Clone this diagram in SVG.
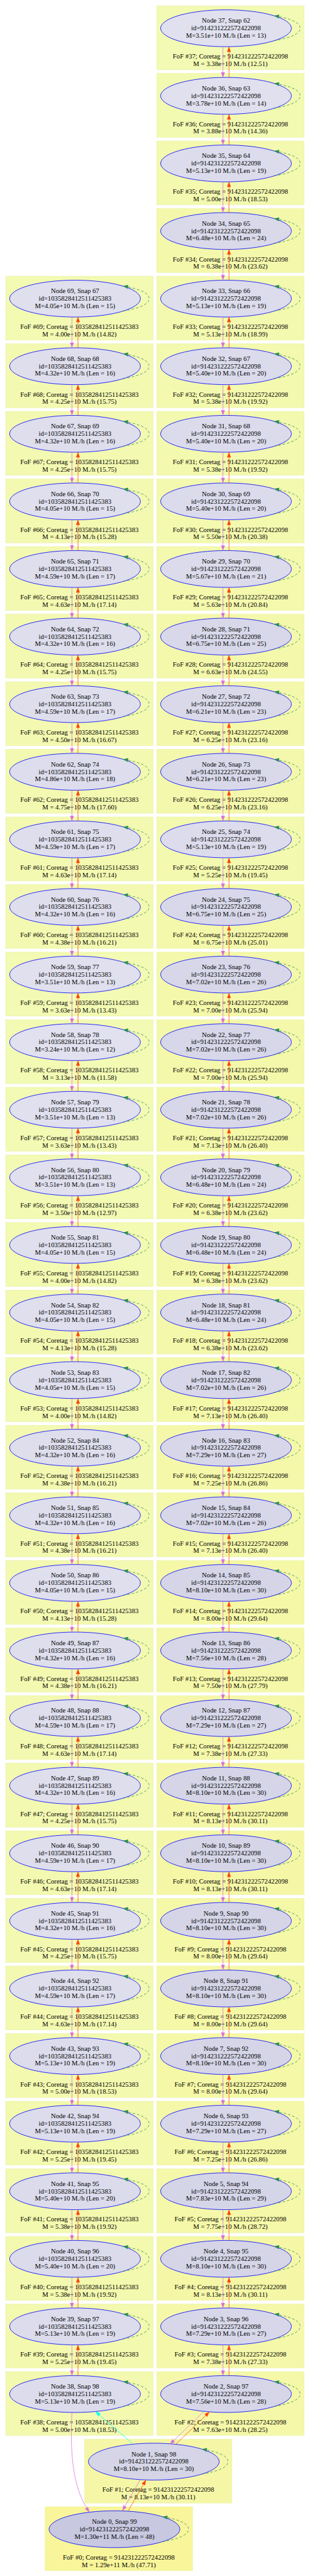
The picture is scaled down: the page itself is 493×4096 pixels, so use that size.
<svg xmlns="http://www.w3.org/2000/svg" width="493" height="4096" viewBox="0 0 493 4096">
<style>
.cb{stroke:#e9f19c;stroke-width:1}
.el{stroke:#0000ff;stroke-width:1.4}
.t{font-family:"Liberation Serif","Times New Roman",serif;font-size:18.2px;text-anchor:middle;fill:#000}
.pk{fill:none;stroke:#da70d6;stroke-width:1.3;marker-end:url(#mPk)}
.or{fill:none;stroke:#ff4500;stroke-width:1.3;marker-end:url(#mOr)}
.lp{fill:none;stroke:#2e8b57;stroke-width:1.3;stroke-dasharray:7 5;marker-end:url(#mGr)}
.cy{fill:none;stroke:#00ffff;stroke-width:1.3;marker-end:url(#mCy)}
</style>
<defs>
<marker id="mPk" markerUnits="userSpaceOnUse" markerWidth="14" markerHeight="11" refX="14" refY="5.3" orient="auto" overflow="visible"><path d="M0,0L14,5.3L0,10.6z" fill="#da70d6"/></marker>
<marker id="mOr" markerUnits="userSpaceOnUse" markerWidth="14" markerHeight="11" refX="14" refY="5.3" orient="auto" overflow="visible"><path d="M0,0L14,5.3L0,10.6z" fill="#ff4500"/></marker>
<marker id="mGr" markerUnits="userSpaceOnUse" markerWidth="14" markerHeight="11" refX="14" refY="5.3" orient="auto" overflow="visible"><path d="M0,0L14,5.3L0,10.6z" fill="#2e8b57"/></marker>
<marker id="mCy" markerUnits="userSpaceOnUse" markerWidth="14" markerHeight="11" refX="14" refY="5.3" orient="auto" overflow="visible"><path d="M0,0L14,5.3L0,10.6z" fill="#00ffff"/></marker>
</defs>
<g transform="scale(0.5886)">
<g id="nodes">
<g id="node37" transform="translate(610.7,15.7)"><rect class="cb" x="-187.2" y="0" width="398.3" height="172.6" fill="#f2fab3"/><ellipse class="el" cx="0" cy="60.6" rx="176.7" ry="49.8" fill="#e0e0ef"/><text class="t" y="46.3">Node 37, Snap 62</text><text class="t" y="66.3">id=914231222572422098</text><text class="t" y="86.3">M=3.51e+10 M./h (Len = 13)</text><text class="t" x="11.9" y="142.6">FoF #37; Coretag = 914231222572422098</text><text class="t" x="11.9" y="162.6">M = 3.38e+10 M./h (12.51)</text></g>
<g id="node36" transform="translate(610.7,198.3)"><rect class="cb" x="-187.2" y="0" width="398.3" height="172.6" fill="#f2fab2"/><ellipse class="el" cx="0" cy="60.6" rx="176.7" ry="49.8" fill="#e0e0ee"/><text class="t" y="46.3">Node 36, Snap 63</text><text class="t" y="66.3">id=914231222572422098</text><text class="t" y="86.3">M=3.78e+10 M./h (Len = 14)</text><text class="t" x="11.9" y="142.6">FoF #36; Coretag = 914231222572422098</text><text class="t" x="11.9" y="162.6">M = 3.88e+10 M./h (14.36)</text></g>
<g id="node35" transform="translate(610.7,380.9)"><rect class="cb" x="-187.2" y="0" width="398.3" height="172.6" fill="#f3f9af"/><ellipse class="el" cx="0" cy="60.6" rx="176.7" ry="49.8" fill="#dcdcec"/><text class="t" y="46.3">Node 35, Snap 64</text><text class="t" y="66.3">id=914231222572422098</text><text class="t" y="86.3">M=5.13e+10 M./h (Len = 19)</text><text class="t" x="11.9" y="142.6">FoF #35; Coretag = 914231222572422098</text><text class="t" x="11.9" y="162.6">M = 5.00e+10 M./h (18.53)</text></g>
<g id="node34" transform="translate(610.7,563.5)"><rect class="cb" x="-187.2" y="0" width="398.3" height="172.6" fill="#f4f8ab"/><ellipse class="el" cx="0" cy="60.6" rx="176.7" ry="49.8" fill="#d9d9ea"/><text class="t" y="46.3">Node 34, Snap 65</text><text class="t" y="66.3">id=914231222572422098</text><text class="t" y="86.3">M=6.48e+10 M./h (Len = 24)</text><text class="t" x="11.9" y="142.6">FoF #34; Coretag = 914231222572422098</text><text class="t" x="11.9" y="162.6">M = 6.38e+10 M./h (23.62)</text></g>
<g id="node33" transform="translate(610.7,746.1)"><rect class="cb" x="-187.2" y="0" width="398.3" height="172.6" fill="#f3f9af"/><ellipse class="el" cx="0" cy="60.6" rx="176.7" ry="49.8" fill="#dcdcec"/><text class="t" y="46.3">Node 33, Snap 66</text><text class="t" y="66.3">id=914231222572422098</text><text class="t" y="86.3">M=5.13e+10 M./h (Len = 19)</text><text class="t" x="11.9" y="142.6">FoF #33; Coretag = 914231222572422098</text><text class="t" x="11.9" y="162.6">M = 5.13e+10 M./h (18.99)</text></g>
<g id="node32" transform="translate(610.7,928.7)"><rect class="cb" x="-187.2" y="0" width="398.3" height="172.6" fill="#f3f9ae"/><ellipse class="el" cx="0" cy="60.6" rx="176.7" ry="49.8" fill="#dbdbec"/><text class="t" y="46.3">Node 32, Snap 67</text><text class="t" y="66.3">id=914231222572422098</text><text class="t" y="86.3">M=5.40e+10 M./h (Len = 20)</text><text class="t" x="11.9" y="142.6">FoF #32; Coretag = 914231222572422098</text><text class="t" x="11.9" y="162.6">M = 5.38e+10 M./h (19.92)</text></g>
<g id="node31" transform="translate(610.7,1111.3)"><rect class="cb" x="-187.2" y="0" width="398.3" height="172.6" fill="#f3f9ae"/><ellipse class="el" cx="0" cy="60.6" rx="176.7" ry="49.8" fill="#dbdbec"/><text class="t" y="46.3">Node 31, Snap 68</text><text class="t" y="66.3">id=914231222572422098</text><text class="t" y="86.3">M=5.40e+10 M./h (Len = 20)</text><text class="t" x="11.9" y="142.6">FoF #31; Coretag = 914231222572422098</text><text class="t" x="11.9" y="162.6">M = 5.38e+10 M./h (19.92)</text></g>
<g id="node30" transform="translate(610.7,1293.9)"><rect class="cb" x="-187.2" y="0" width="398.3" height="172.6" fill="#f3f9ae"/><ellipse class="el" cx="0" cy="60.6" rx="176.7" ry="49.8" fill="#dbdbec"/><text class="t" y="46.3">Node 30, Snap 69</text><text class="t" y="66.3">id=914231222572422098</text><text class="t" y="86.3">M=5.40e+10 M./h (Len = 20)</text><text class="t" x="11.9" y="142.6">FoF #30; Coretag = 914231222572422098</text><text class="t" x="11.9" y="162.6">M = 5.50e+10 M./h (20.38)</text></g>
<g id="node29" transform="translate(610.7,1476.5)"><rect class="cb" x="-187.2" y="0" width="398.3" height="172.6" fill="#f4f9ad"/><ellipse class="el" cx="0" cy="60.6" rx="176.7" ry="49.8" fill="#dbdbeb"/><text class="t" y="46.3">Node 29, Snap 70</text><text class="t" y="66.3">id=914231222572422098</text><text class="t" y="86.3">M=5.67e+10 M./h (Len = 21)</text><text class="t" x="11.9" y="142.6">FoF #29; Coretag = 914231222572422098</text><text class="t" x="11.9" y="162.6">M = 5.63e+10 M./h (20.84)</text></g>
<g id="node28" transform="translate(610.7,1659.1)"><rect class="cb" x="-187.2" y="0" width="398.3" height="172.6" fill="#f4f8ab"/><ellipse class="el" cx="0" cy="60.6" rx="176.7" ry="49.8" fill="#d8d8ea"/><text class="t" y="46.3">Node 28, Snap 71</text><text class="t" y="66.3">id=914231222572422098</text><text class="t" y="86.3">M=6.75e+10 M./h (Len = 25)</text><text class="t" x="11.9" y="142.6">FoF #28; Coretag = 914231222572422098</text><text class="t" x="11.9" y="162.6">M = 6.63e+10 M./h (24.55)</text></g>
<g id="node27" transform="translate(610.7,1841.7)"><rect class="cb" x="-187.2" y="0" width="398.3" height="172.6" fill="#f4f8ac"/><ellipse class="el" cx="0" cy="60.6" rx="176.7" ry="49.8" fill="#d9d9ea"/><text class="t" y="46.3">Node 27, Snap 72</text><text class="t" y="66.3">id=914231222572422098</text><text class="t" y="86.3">M=6.21e+10 M./h (Len = 23)</text><text class="t" x="11.9" y="142.6">FoF #27; Coretag = 914231222572422098</text><text class="t" x="11.9" y="162.6">M = 6.25e+10 M./h (23.16)</text></g>
<g id="node26" transform="translate(610.7,2024.3)"><rect class="cb" x="-187.2" y="0" width="398.3" height="172.6" fill="#f4f8ac"/><ellipse class="el" cx="0" cy="60.6" rx="176.7" ry="49.8" fill="#d9d9ea"/><text class="t" y="46.3">Node 26, Snap 73</text><text class="t" y="66.3">id=914231222572422098</text><text class="t" y="86.3">M=6.21e+10 M./h (Len = 23)</text><text class="t" x="11.9" y="142.6">FoF #26; Coretag = 914231222572422098</text><text class="t" x="11.9" y="162.6">M = 6.25e+10 M./h (23.16)</text></g>
<g id="node25" transform="translate(610.7,2206.9)"><rect class="cb" x="-187.2" y="0" width="398.3" height="172.6" fill="#f3f9ae"/><ellipse class="el" cx="0" cy="60.6" rx="176.7" ry="49.8" fill="#dcdcec"/><text class="t" y="46.3">Node 25, Snap 74</text><text class="t" y="66.3">id=914231222572422098</text><text class="t" y="86.3">M=5.13e+10 M./h (Len = 19)</text><text class="t" x="11.9" y="142.6">FoF #25; Coretag = 914231222572422098</text><text class="t" x="11.9" y="162.6">M = 5.25e+10 M./h (19.45)</text></g>
<g id="node24" transform="translate(610.7,2389.5)"><rect class="cb" x="-187.2" y="0" width="398.3" height="172.6" fill="#f4f8aa"/><ellipse class="el" cx="0" cy="60.6" rx="176.7" ry="49.8" fill="#d8d8ea"/><text class="t" y="46.3">Node 24, Snap 75</text><text class="t" y="66.3">id=914231222572422098</text><text class="t" y="86.3">M=6.75e+10 M./h (Len = 25)</text><text class="t" x="11.9" y="142.6">FoF #24; Coretag = 914231222572422098</text><text class="t" x="11.9" y="162.6">M = 6.75e+10 M./h (25.01)</text></g>
<g id="node23" transform="translate(610.7,2572.1)"><rect class="cb" x="-187.2" y="0" width="398.3" height="172.6" fill="#f4f8aa"/><ellipse class="el" cx="0" cy="60.6" rx="176.7" ry="49.8" fill="#d7d7e9"/><text class="t" y="46.3">Node 23, Snap 76</text><text class="t" y="66.3">id=914231222572422098</text><text class="t" y="86.3">M=7.02e+10 M./h (Len = 26)</text><text class="t" x="11.9" y="142.6">FoF #23; Coretag = 914231222572422098</text><text class="t" x="11.9" y="162.6">M = 7.00e+10 M./h (25.94)</text></g>
<g id="node22" transform="translate(610.7,2754.7)"><rect class="cb" x="-187.2" y="0" width="398.3" height="172.6" fill="#f4f8aa"/><ellipse class="el" cx="0" cy="60.6" rx="176.7" ry="49.8" fill="#d7d7e9"/><text class="t" y="46.3">Node 22, Snap 77</text><text class="t" y="66.3">id=914231222572422098</text><text class="t" y="86.3">M=7.02e+10 M./h (Len = 26)</text><text class="t" x="11.9" y="142.6">FoF #22; Coretag = 914231222572422098</text><text class="t" x="11.9" y="162.6">M = 7.00e+10 M./h (25.94)</text></g>
<g id="node21" transform="translate(610.7,2937.3)"><rect class="cb" x="-187.2" y="0" width="398.3" height="172.6" fill="#f4f8a9"/><ellipse class="el" cx="0" cy="60.6" rx="176.7" ry="49.8" fill="#d7d7e9"/><text class="t" y="46.3">Node 21, Snap 78</text><text class="t" y="66.3">id=914231222572422098</text><text class="t" y="86.3">M=7.02e+10 M./h (Len = 26)</text><text class="t" x="11.9" y="142.6">FoF #21; Coretag = 914231222572422098</text><text class="t" x="11.9" y="162.6">M = 7.13e+10 M./h (26.40)</text></g>
<g id="node20" transform="translate(610.7,3119.9)"><rect class="cb" x="-187.2" y="0" width="398.3" height="172.6" fill="#f4f8ab"/><ellipse class="el" cx="0" cy="60.6" rx="176.7" ry="49.8" fill="#d9d9ea"/><text class="t" y="46.3">Node 20, Snap 79</text><text class="t" y="66.3">id=914231222572422098</text><text class="t" y="86.3">M=6.48e+10 M./h (Len = 24)</text><text class="t" x="11.9" y="142.6">FoF #20; Coretag = 914231222572422098</text><text class="t" x="11.9" y="162.6">M = 6.38e+10 M./h (23.62)</text></g>
<g id="node19" transform="translate(610.7,3302.5)"><rect class="cb" x="-187.2" y="0" width="398.3" height="172.6" fill="#f4f8ab"/><ellipse class="el" cx="0" cy="60.6" rx="176.7" ry="49.8" fill="#d9d9ea"/><text class="t" y="46.3">Node 19, Snap 80</text><text class="t" y="66.3">id=914231222572422098</text><text class="t" y="86.3">M=6.48e+10 M./h (Len = 24)</text><text class="t" x="11.9" y="142.6">FoF #19; Coretag = 914231222572422098</text><text class="t" x="11.9" y="162.6">M = 6.38e+10 M./h (23.62)</text></g>
<g id="node18" transform="translate(610.7,3485.1)"><rect class="cb" x="-187.2" y="0" width="398.3" height="172.6" fill="#f4f8ab"/><ellipse class="el" cx="0" cy="60.6" rx="176.7" ry="49.8" fill="#d9d9ea"/><text class="t" y="46.3">Node 18, Snap 81</text><text class="t" y="66.3">id=914231222572422098</text><text class="t" y="86.3">M=6.48e+10 M./h (Len = 24)</text><text class="t" x="11.9" y="142.6">FoF #18; Coretag = 914231222572422098</text><text class="t" x="11.9" y="162.6">M = 6.38e+10 M./h (23.62)</text></g>
<g id="node17" transform="translate(610.7,3667.7)"><rect class="cb" x="-187.2" y="0" width="398.3" height="172.6" fill="#f4f8a9"/><ellipse class="el" cx="0" cy="60.6" rx="176.7" ry="49.8" fill="#d7d7e9"/><text class="t" y="46.3">Node 17, Snap 82</text><text class="t" y="66.3">id=914231222572422098</text><text class="t" y="86.3">M=7.02e+10 M./h (Len = 26)</text><text class="t" x="11.9" y="142.6">FoF #17; Coretag = 914231222572422098</text><text class="t" x="11.9" y="162.6">M = 7.13e+10 M./h (26.40)</text></g>
<g id="node16" transform="translate(610.7,3850.3)"><rect class="cb" x="-187.2" y="0" width="398.3" height="172.6" fill="#f5f8a9"/><ellipse class="el" cx="0" cy="60.6" rx="176.7" ry="49.8" fill="#d7d7e9"/><text class="t" y="46.3">Node 16, Snap 83</text><text class="t" y="66.3">id=914231222572422098</text><text class="t" y="86.3">M=7.29e+10 M./h (Len = 27)</text><text class="t" x="11.9" y="142.6">FoF #16; Coretag = 914231222572422098</text><text class="t" x="11.9" y="162.6">M = 7.25e+10 M./h (26.86)</text></g>
<g id="node15" transform="translate(610.7,4032.9)"><rect class="cb" x="-187.2" y="0" width="398.3" height="172.6" fill="#f4f8a9"/><ellipse class="el" cx="0" cy="60.6" rx="176.7" ry="49.8" fill="#d7d7e9"/><text class="t" y="46.3">Node 15, Snap 84</text><text class="t" y="66.3">id=914231222572422098</text><text class="t" y="86.3">M=7.02e+10 M./h (Len = 26)</text><text class="t" x="11.9" y="142.6">FoF #15; Coretag = 914231222572422098</text><text class="t" x="11.9" y="162.6">M = 7.13e+10 M./h (26.40)</text></g>
<g id="node14" transform="translate(610.7,4215.5)"><rect class="cb" x="-187.2" y="0" width="398.3" height="172.6" fill="#f5f8a7"/><ellipse class="el" cx="0" cy="60.6" rx="176.7" ry="49.8" fill="#d5d5e7"/><text class="t" y="46.3">Node 14, Snap 85</text><text class="t" y="66.3">id=914231222572422098</text><text class="t" y="86.3">M=8.10e+10 M./h (Len = 30)</text><text class="t" x="11.9" y="142.6">FoF #14; Coretag = 914231222572422098</text><text class="t" x="11.9" y="162.6">M = 8.00e+10 M./h (29.64)</text></g>
<g id="node13" transform="translate(610.7,4398.1)"><rect class="cb" x="-187.2" y="0" width="398.3" height="172.6" fill="#f5f8a8"/><ellipse class="el" cx="0" cy="60.6" rx="176.7" ry="49.8" fill="#d6d6e8"/><text class="t" y="46.3">Node 13, Snap 86</text><text class="t" y="66.3">id=914231222572422098</text><text class="t" y="86.3">M=7.56e+10 M./h (Len = 28)</text><text class="t" x="11.9" y="142.6">FoF #13; Coretag = 914231222572422098</text><text class="t" x="11.9" y="162.6">M = 7.50e+10 M./h (27.79)</text></g>
<g id="node12" transform="translate(610.7,4580.7)"><rect class="cb" x="-187.2" y="0" width="398.3" height="172.6" fill="#f5f8a9"/><ellipse class="el" cx="0" cy="60.6" rx="176.7" ry="49.8" fill="#d7d7e9"/><text class="t" y="46.3">Node 12, Snap 87</text><text class="t" y="66.3">id=914231222572422098</text><text class="t" y="86.3">M=7.29e+10 M./h (Len = 27)</text><text class="t" x="11.9" y="142.6">FoF #12; Coretag = 914231222572422098</text><text class="t" x="11.9" y="162.6">M = 7.38e+10 M./h (27.33)</text></g>
<g id="node11" transform="translate(610.7,4763.3)"><rect class="cb" x="-187.2" y="0" width="398.3" height="172.6" fill="#f5f7a7"/><ellipse class="el" cx="0" cy="60.6" rx="176.7" ry="49.8" fill="#d5d5e7"/><text class="t" y="46.3">Node 11, Snap 88</text><text class="t" y="66.3">id=914231222572422098</text><text class="t" y="86.3">M=8.10e+10 M./h (Len = 30)</text><text class="t" x="11.9" y="142.6">FoF #11; Coretag = 914231222572422098</text><text class="t" x="11.9" y="162.6">M = 8.13e+10 M./h (30.11)</text></g>
<g id="node10" transform="translate(610.7,4945.9)"><rect class="cb" x="-187.2" y="0" width="398.3" height="172.6" fill="#f5f7a7"/><ellipse class="el" cx="0" cy="60.6" rx="176.7" ry="49.8" fill="#d5d5e7"/><text class="t" y="46.3">Node 10, Snap 89</text><text class="t" y="66.3">id=914231222572422098</text><text class="t" y="86.3">M=8.10e+10 M./h (Len = 30)</text><text class="t" x="11.9" y="142.6">FoF #10; Coretag = 914231222572422098</text><text class="t" x="11.9" y="162.6">M = 8.13e+10 M./h (30.11)</text></g>
<g id="node9" transform="translate(610.7,5128.5)"><rect class="cb" x="-187.2" y="0" width="398.3" height="172.6" fill="#f5f8a7"/><ellipse class="el" cx="0" cy="60.6" rx="176.7" ry="49.8" fill="#d5d5e7"/><text class="t" y="46.3">Node 9, Snap 90</text><text class="t" y="66.3">id=914231222572422098</text><text class="t" y="86.3">M=8.10e+10 M./h (Len = 30)</text><text class="t" x="11.9" y="142.6">FoF #9; Coretag = 914231222572422098</text><text class="t" x="11.9" y="162.6">M = 8.00e+10 M./h (29.64)</text></g>
<g id="node8" transform="translate(610.7,5311.1)"><rect class="cb" x="-187.2" y="0" width="398.3" height="172.6" fill="#f5f8a7"/><ellipse class="el" cx="0" cy="60.6" rx="176.7" ry="49.8" fill="#d5d5e7"/><text class="t" y="46.3">Node 8, Snap 91</text><text class="t" y="66.3">id=914231222572422098</text><text class="t" y="86.3">M=8.10e+10 M./h (Len = 30)</text><text class="t" x="11.9" y="142.6">FoF #8; Coretag = 914231222572422098</text><text class="t" x="11.9" y="162.6">M = 8.00e+10 M./h (29.64)</text></g>
<g id="node7" transform="translate(610.7,5493.7)"><rect class="cb" x="-187.2" y="0" width="398.3" height="172.6" fill="#f5f8a7"/><ellipse class="el" cx="0" cy="60.6" rx="176.7" ry="49.8" fill="#d5d5e7"/><text class="t" y="46.3">Node 7, Snap 92</text><text class="t" y="66.3">id=914231222572422098</text><text class="t" y="86.3">M=8.10e+10 M./h (Len = 30)</text><text class="t" x="11.9" y="142.6">FoF #7; Coretag = 914231222572422098</text><text class="t" x="11.9" y="162.6">M = 8.00e+10 M./h (29.64)</text></g>
<g id="node6" transform="translate(610.7,5676.3)"><rect class="cb" x="-187.2" y="0" width="398.3" height="172.6" fill="#f5f8a9"/><ellipse class="el" cx="0" cy="60.6" rx="176.7" ry="49.8" fill="#d7d7e9"/><text class="t" y="46.3">Node 6, Snap 93</text><text class="t" y="66.3">id=914231222572422098</text><text class="t" y="86.3">M=7.29e+10 M./h (Len = 27)</text><text class="t" x="11.9" y="142.6">FoF #6; Coretag = 914231222572422098</text><text class="t" x="11.9" y="162.6">M = 7.25e+10 M./h (26.86)</text></g>
<g id="node5" transform="translate(610.7,5858.9)"><rect class="cb" x="-187.2" y="0" width="398.3" height="172.6" fill="#f5f8a8"/><ellipse class="el" cx="0" cy="60.6" rx="176.7" ry="49.8" fill="#d5d5e8"/><text class="t" y="46.3">Node 5, Snap 94</text><text class="t" y="66.3">id=914231222572422098</text><text class="t" y="86.3">M=7.83e+10 M./h (Len = 29)</text><text class="t" x="11.9" y="142.6">FoF #5; Coretag = 914231222572422098</text><text class="t" x="11.9" y="162.6">M = 7.75e+10 M./h (28.72)</text></g>
<g id="node4" transform="translate(610.7,6041.5)"><rect class="cb" x="-187.2" y="0" width="398.3" height="172.6" fill="#f5f7a7"/><ellipse class="el" cx="0" cy="60.6" rx="176.7" ry="49.8" fill="#d5d5e7"/><text class="t" y="46.3">Node 4, Snap 95</text><text class="t" y="66.3">id=914231222572422098</text><text class="t" y="86.3">M=8.10e+10 M./h (Len = 30)</text><text class="t" x="11.9" y="142.6">FoF #4; Coretag = 914231222572422098</text><text class="t" x="11.9" y="162.6">M = 8.13e+10 M./h (30.11)</text></g>
<g id="node3" transform="translate(610.7,6224.1)"><rect class="cb" x="-187.2" y="0" width="398.3" height="172.6" fill="#f5f8a9"/><ellipse class="el" cx="0" cy="60.6" rx="176.7" ry="49.8" fill="#d7d7e9"/><text class="t" y="46.3">Node 3, Snap 96</text><text class="t" y="66.3">id=914231222572422098</text><text class="t" y="86.3">M=7.29e+10 M./h (Len = 27)</text><text class="t" x="11.9" y="142.6">FoF #3; Coretag = 914231222572422098</text><text class="t" x="11.9" y="162.6">M = 7.38e+10 M./h (27.33)</text></g>
<g id="node2" transform="translate(610.7,6406.7)"><rect class="cb" x="-187.2" y="0" width="398.3" height="172.6" fill="#f5f8a8"/><ellipse class="el" cx="0" cy="60.6" rx="176.7" ry="49.8" fill="#d6d6e8"/><text class="t" y="46.3">Node 2, Snap 97</text><text class="t" y="66.3">id=914231222572422098</text><text class="t" y="86.3">M=7.56e+10 M./h (Len = 28)</text><text class="t" x="11.9" y="142.6">FoF #2; Coretag = 914231222572422098</text><text class="t" x="11.9" y="162.6">M = 7.63e+10 M./h (28.25)</text></g>
<g id="node69" transform="translate(202.7,746.1)"><rect class="cb" x="-187.2" y="0" width="398.3" height="172.6" fill="#f3fab2"/><ellipse class="el" cx="0" cy="60.6" rx="176.7" ry="49.8" fill="#dfdfee"/><text class="t" y="46.3">Node 69, Snap 67</text><text class="t" y="66.3">id=1035828412511425383</text><text class="t" y="86.3">M=4.05e+10 M./h (Len = 15)</text><text class="t" x="11.9" y="142.6">FoF #69; Coretag = 1035828412511425383</text><text class="t" x="11.9" y="162.6">M = 4.00e+10 M./h (14.82)</text></g>
<g id="node68" transform="translate(202.7,928.7)"><rect class="cb" x="-187.2" y="0" width="398.3" height="172.6" fill="#f3f9b1"/><ellipse class="el" cx="0" cy="60.6" rx="176.7" ry="49.8" fill="#dedeed"/><text class="t" y="46.3">Node 68, Snap 68</text><text class="t" y="66.3">id=1035828412511425383</text><text class="t" y="86.3">M=4.32e+10 M./h (Len = 16)</text><text class="t" x="11.9" y="142.6">FoF #68; Coretag = 1035828412511425383</text><text class="t" x="11.9" y="162.6">M = 4.25e+10 M./h (15.75)</text></g>
<g id="node67" transform="translate(202.7,1111.3)"><rect class="cb" x="-187.2" y="0" width="398.3" height="172.6" fill="#f3f9b1"/><ellipse class="el" cx="0" cy="60.6" rx="176.7" ry="49.8" fill="#dedeed"/><text class="t" y="46.3">Node 67, Snap 69</text><text class="t" y="66.3">id=1035828412511425383</text><text class="t" y="86.3">M=4.32e+10 M./h (Len = 16)</text><text class="t" x="11.9" y="142.6">FoF #67; Coretag = 1035828412511425383</text><text class="t" x="11.9" y="162.6">M = 4.25e+10 M./h (15.75)</text></g>
<g id="node66" transform="translate(202.7,1293.9)"><rect class="cb" x="-187.2" y="0" width="398.3" height="172.6" fill="#f3f9b1"/><ellipse class="el" cx="0" cy="60.6" rx="176.7" ry="49.8" fill="#dfdfee"/><text class="t" y="46.3">Node 66, Snap 70</text><text class="t" y="66.3">id=1035828412511425383</text><text class="t" y="86.3">M=4.05e+10 M./h (Len = 15)</text><text class="t" x="11.9" y="142.6">FoF #66; Coretag = 1035828412511425383</text><text class="t" x="11.9" y="162.6">M = 4.13e+10 M./h (15.28)</text></g>
<g id="node65" transform="translate(202.7,1476.5)"><rect class="cb" x="-187.2" y="0" width="398.3" height="172.6" fill="#f3f9b0"/><ellipse class="el" cx="0" cy="60.6" rx="176.7" ry="49.8" fill="#dedeed"/><text class="t" y="46.3">Node 65, Snap 71</text><text class="t" y="66.3">id=1035828412511425383</text><text class="t" y="86.3">M=4.59e+10 M./h (Len = 17)</text><text class="t" x="11.9" y="142.6">FoF #65; Coretag = 1035828412511425383</text><text class="t" x="11.9" y="162.6">M = 4.63e+10 M./h (17.14)</text></g>
<g id="node64" transform="translate(202.7,1659.1)"><rect class="cb" x="-187.2" y="0" width="398.3" height="172.6" fill="#f3f9b1"/><ellipse class="el" cx="0" cy="60.6" rx="176.7" ry="49.8" fill="#dedeed"/><text class="t" y="46.3">Node 64, Snap 72</text><text class="t" y="66.3">id=1035828412511425383</text><text class="t" y="86.3">M=4.32e+10 M./h (Len = 16)</text><text class="t" x="11.9" y="142.6">FoF #64; Coretag = 1035828412511425383</text><text class="t" x="11.9" y="162.6">M = 4.25e+10 M./h (15.75)</text></g>
<g id="node63" transform="translate(202.7,1841.7)"><rect class="cb" x="-187.2" y="0" width="398.3" height="172.6" fill="#f3f9b0"/><ellipse class="el" cx="0" cy="60.6" rx="176.7" ry="49.8" fill="#dedeed"/><text class="t" y="46.3">Node 63, Snap 73</text><text class="t" y="66.3">id=1035828412511425383</text><text class="t" y="86.3">M=4.59e+10 M./h (Len = 17)</text><text class="t" x="11.9" y="142.6">FoF #63; Coretag = 1035828412511425383</text><text class="t" x="11.9" y="162.6">M = 4.50e+10 M./h (16.67)</text></g>
<g id="node62" transform="translate(202.7,2024.3)"><rect class="cb" x="-187.2" y="0" width="398.3" height="172.6" fill="#f3f9b0"/><ellipse class="el" cx="0" cy="60.6" rx="176.7" ry="49.8" fill="#dddded"/><text class="t" y="46.3">Node 62, Snap 74</text><text class="t" y="66.3">id=1035828412511425383</text><text class="t" y="86.3">M=4.86e+10 M./h (Len = 18)</text><text class="t" x="11.9" y="142.6">FoF #62; Coretag = 1035828412511425383</text><text class="t" x="11.9" y="162.6">M = 4.75e+10 M./h (17.60)</text></g>
<g id="node61" transform="translate(202.7,2206.9)"><rect class="cb" x="-187.2" y="0" width="398.3" height="172.6" fill="#f3f9b0"/><ellipse class="el" cx="0" cy="60.6" rx="176.7" ry="49.8" fill="#dedeed"/><text class="t" y="46.3">Node 61, Snap 75</text><text class="t" y="66.3">id=1035828412511425383</text><text class="t" y="86.3">M=4.59e+10 M./h (Len = 17)</text><text class="t" x="11.9" y="142.6">FoF #61; Coretag = 1035828412511425383</text><text class="t" x="11.9" y="162.6">M = 4.63e+10 M./h (17.14)</text></g>
<g id="node60" transform="translate(202.7,2389.5)"><rect class="cb" x="-187.2" y="0" width="398.3" height="172.6" fill="#f3f9b1"/><ellipse class="el" cx="0" cy="60.6" rx="176.7" ry="49.8" fill="#dedeed"/><text class="t" y="46.3">Node 60, Snap 76</text><text class="t" y="66.3">id=1035828412511425383</text><text class="t" y="86.3">M=4.32e+10 M./h (Len = 16)</text><text class="t" x="11.9" y="142.6">FoF #60; Coretag = 1035828412511425383</text><text class="t" x="11.9" y="162.6">M = 4.38e+10 M./h (16.21)</text></g>
<g id="node59" transform="translate(202.7,2572.1)"><rect class="cb" x="-187.2" y="0" width="398.3" height="172.6" fill="#f2fab3"/><ellipse class="el" cx="0" cy="60.6" rx="176.7" ry="49.8" fill="#e0e0ef"/><text class="t" y="46.3">Node 59, Snap 77</text><text class="t" y="66.3">id=1035828412511425383</text><text class="t" y="86.3">M=3.51e+10 M./h (Len = 13)</text><text class="t" x="11.9" y="142.6">FoF #59; Coretag = 1035828412511425383</text><text class="t" x="11.9" y="162.6">M = 3.63e+10 M./h (13.43)</text></g>
<g id="node58" transform="translate(202.7,2754.7)"><rect class="cb" x="-187.2" y="0" width="398.3" height="172.6" fill="#f2fab4"/><ellipse class="el" cx="0" cy="60.6" rx="176.7" ry="49.8" fill="#e1e1ef"/><text class="t" y="46.3">Node 58, Snap 78</text><text class="t" y="66.3">id=1035828412511425383</text><text class="t" y="86.3">M=3.24e+10 M./h (Len = 12)</text><text class="t" x="11.9" y="142.6">FoF #58; Coretag = 1035828412511425383</text><text class="t" x="11.9" y="162.6">M = 3.13e+10 M./h (11.58)</text></g>
<g id="node57" transform="translate(202.7,2937.3)"><rect class="cb" x="-187.2" y="0" width="398.3" height="172.6" fill="#f2fab3"/><ellipse class="el" cx="0" cy="60.6" rx="176.7" ry="49.8" fill="#e0e0ef"/><text class="t" y="46.3">Node 57, Snap 79</text><text class="t" y="66.3">id=1035828412511425383</text><text class="t" y="86.3">M=3.51e+10 M./h (Len = 13)</text><text class="t" x="11.9" y="142.6">FoF #57; Coretag = 1035828412511425383</text><text class="t" x="11.9" y="162.6">M = 3.63e+10 M./h (13.43)</text></g>
<g id="node56" transform="translate(202.7,3119.9)"><rect class="cb" x="-187.2" y="0" width="398.3" height="172.6" fill="#f2fab3"/><ellipse class="el" cx="0" cy="60.6" rx="176.7" ry="49.8" fill="#e0e0ef"/><text class="t" y="46.3">Node 56, Snap 80</text><text class="t" y="66.3">id=1035828412511425383</text><text class="t" y="86.3">M=3.51e+10 M./h (Len = 13)</text><text class="t" x="11.9" y="142.6">FoF #56; Coretag = 1035828412511425383</text><text class="t" x="11.9" y="162.6">M = 3.50e+10 M./h (12.97)</text></g>
<g id="node55" transform="translate(202.7,3302.5)"><rect class="cb" x="-187.2" y="0" width="398.3" height="172.6" fill="#f3fab2"/><ellipse class="el" cx="0" cy="60.6" rx="176.7" ry="49.8" fill="#dfdfee"/><text class="t" y="46.3">Node 55, Snap 81</text><text class="t" y="66.3">id=1035828412511425383</text><text class="t" y="86.3">M=4.05e+10 M./h (Len = 15)</text><text class="t" x="11.9" y="142.6">FoF #55; Coretag = 1035828412511425383</text><text class="t" x="11.9" y="162.6">M = 4.00e+10 M./h (14.82)</text></g>
<g id="node54" transform="translate(202.7,3485.1)"><rect class="cb" x="-187.2" y="0" width="398.3" height="172.6" fill="#f3f9b1"/><ellipse class="el" cx="0" cy="60.6" rx="176.7" ry="49.8" fill="#dfdfee"/><text class="t" y="46.3">Node 54, Snap 82</text><text class="t" y="66.3">id=1035828412511425383</text><text class="t" y="86.3">M=4.05e+10 M./h (Len = 15)</text><text class="t" x="11.9" y="142.6">FoF #54; Coretag = 1035828412511425383</text><text class="t" x="11.9" y="162.6">M = 4.13e+10 M./h (15.28)</text></g>
<g id="node53" transform="translate(202.7,3667.7)"><rect class="cb" x="-187.2" y="0" width="398.3" height="172.6" fill="#f3fab2"/><ellipse class="el" cx="0" cy="60.6" rx="176.7" ry="49.8" fill="#dfdfee"/><text class="t" y="46.3">Node 53, Snap 83</text><text class="t" y="66.3">id=1035828412511425383</text><text class="t" y="86.3">M=4.05e+10 M./h (Len = 15)</text><text class="t" x="11.9" y="142.6">FoF #53; Coretag = 1035828412511425383</text><text class="t" x="11.9" y="162.6">M = 4.00e+10 M./h (14.82)</text></g>
<g id="node52" transform="translate(202.7,3850.3)"><rect class="cb" x="-187.2" y="0" width="398.3" height="172.6" fill="#f3f9b1"/><ellipse class="el" cx="0" cy="60.6" rx="176.7" ry="49.8" fill="#dedeed"/><text class="t" y="46.3">Node 52, Snap 84</text><text class="t" y="66.3">id=1035828412511425383</text><text class="t" y="86.3">M=4.32e+10 M./h (Len = 16)</text><text class="t" x="11.9" y="142.6">FoF #52; Coretag = 1035828412511425383</text><text class="t" x="11.9" y="162.6">M = 4.38e+10 M./h (16.21)</text></g>
<g id="node51" transform="translate(202.7,4032.9)"><rect class="cb" x="-187.2" y="0" width="398.3" height="172.6" fill="#f3f9b1"/><ellipse class="el" cx="0" cy="60.6" rx="176.7" ry="49.8" fill="#dedeed"/><text class="t" y="46.3">Node 51, Snap 85</text><text class="t" y="66.3">id=1035828412511425383</text><text class="t" y="86.3">M=4.32e+10 M./h (Len = 16)</text><text class="t" x="11.9" y="142.6">FoF #51; Coretag = 1035828412511425383</text><text class="t" x="11.9" y="162.6">M = 4.38e+10 M./h (16.21)</text></g>
<g id="node50" transform="translate(202.7,4215.5)"><rect class="cb" x="-187.2" y="0" width="398.3" height="172.6" fill="#f3f9b1"/><ellipse class="el" cx="0" cy="60.6" rx="176.7" ry="49.8" fill="#dfdfee"/><text class="t" y="46.3">Node 50, Snap 86</text><text class="t" y="66.3">id=1035828412511425383</text><text class="t" y="86.3">M=4.05e+10 M./h (Len = 15)</text><text class="t" x="11.9" y="142.6">FoF #50; Coretag = 1035828412511425383</text><text class="t" x="11.9" y="162.6">M = 4.13e+10 M./h (15.28)</text></g>
<g id="node49" transform="translate(202.7,4398.1)"><rect class="cb" x="-187.2" y="0" width="398.3" height="172.6" fill="#f3f9b1"/><ellipse class="el" cx="0" cy="60.6" rx="176.7" ry="49.8" fill="#dedeed"/><text class="t" y="46.3">Node 49, Snap 87</text><text class="t" y="66.3">id=1035828412511425383</text><text class="t" y="86.3">M=4.32e+10 M./h (Len = 16)</text><text class="t" x="11.9" y="142.6">FoF #49; Coretag = 1035828412511425383</text><text class="t" x="11.9" y="162.6">M = 4.38e+10 M./h (16.21)</text></g>
<g id="node48" transform="translate(202.7,4580.7)"><rect class="cb" x="-187.2" y="0" width="398.3" height="172.6" fill="#f3f9b0"/><ellipse class="el" cx="0" cy="60.6" rx="176.7" ry="49.8" fill="#dedeed"/><text class="t" y="46.3">Node 48, Snap 88</text><text class="t" y="66.3">id=1035828412511425383</text><text class="t" y="86.3">M=4.59e+10 M./h (Len = 17)</text><text class="t" x="11.9" y="142.6">FoF #48; Coretag = 1035828412511425383</text><text class="t" x="11.9" y="162.6">M = 4.63e+10 M./h (17.14)</text></g>
<g id="node47" transform="translate(202.7,4763.3)"><rect class="cb" x="-187.2" y="0" width="398.3" height="172.6" fill="#f3f9b1"/><ellipse class="el" cx="0" cy="60.6" rx="176.7" ry="49.8" fill="#dedeed"/><text class="t" y="46.3">Node 47, Snap 89</text><text class="t" y="66.3">id=1035828412511425383</text><text class="t" y="86.3">M=4.32e+10 M./h (Len = 16)</text><text class="t" x="11.9" y="142.6">FoF #47; Coretag = 1035828412511425383</text><text class="t" x="11.9" y="162.6">M = 4.25e+10 M./h (15.75)</text></g>
<g id="node46" transform="translate(202.7,4945.9)"><rect class="cb" x="-187.2" y="0" width="398.3" height="172.6" fill="#f3f9b0"/><ellipse class="el" cx="0" cy="60.6" rx="176.7" ry="49.8" fill="#dedeed"/><text class="t" y="46.3">Node 46, Snap 90</text><text class="t" y="66.3">id=1035828412511425383</text><text class="t" y="86.3">M=4.59e+10 M./h (Len = 17)</text><text class="t" x="11.9" y="142.6">FoF #46; Coretag = 1035828412511425383</text><text class="t" x="11.9" y="162.6">M = 4.63e+10 M./h (17.14)</text></g>
<g id="node45" transform="translate(202.7,5128.5)"><rect class="cb" x="-187.2" y="0" width="398.3" height="172.6" fill="#f3f9b1"/><ellipse class="el" cx="0" cy="60.6" rx="176.7" ry="49.8" fill="#dedeed"/><text class="t" y="46.3">Node 45, Snap 91</text><text class="t" y="66.3">id=1035828412511425383</text><text class="t" y="86.3">M=4.32e+10 M./h (Len = 16)</text><text class="t" x="11.9" y="142.6">FoF #45; Coretag = 1035828412511425383</text><text class="t" x="11.9" y="162.6">M = 4.25e+10 M./h (15.75)</text></g>
<g id="node44" transform="translate(202.7,5311.1)"><rect class="cb" x="-187.2" y="0" width="398.3" height="172.6" fill="#f3f9b0"/><ellipse class="el" cx="0" cy="60.6" rx="176.7" ry="49.8" fill="#dedeed"/><text class="t" y="46.3">Node 44, Snap 92</text><text class="t" y="66.3">id=1035828412511425383</text><text class="t" y="86.3">M=4.59e+10 M./h (Len = 17)</text><text class="t" x="11.9" y="142.6">FoF #44; Coretag = 1035828412511425383</text><text class="t" x="11.9" y="162.6">M = 4.63e+10 M./h (17.14)</text></g>
<g id="node43" transform="translate(202.7,5493.7)"><rect class="cb" x="-187.2" y="0" width="398.3" height="172.6" fill="#f3f9af"/><ellipse class="el" cx="0" cy="60.6" rx="176.7" ry="49.8" fill="#dcdcec"/><text class="t" y="46.3">Node 43, Snap 93</text><text class="t" y="66.3">id=1035828412511425383</text><text class="t" y="86.3">M=5.13e+10 M./h (Len = 19)</text><text class="t" x="11.9" y="142.6">FoF #43; Coretag = 1035828412511425383</text><text class="t" x="11.9" y="162.6">M = 5.00e+10 M./h (18.53)</text></g>
<g id="node42" transform="translate(202.7,5676.3)"><rect class="cb" x="-187.2" y="0" width="398.3" height="172.6" fill="#f3f9ae"/><ellipse class="el" cx="0" cy="60.6" rx="176.7" ry="49.8" fill="#dcdcec"/><text class="t" y="46.3">Node 42, Snap 94</text><text class="t" y="66.3">id=1035828412511425383</text><text class="t" y="86.3">M=5.13e+10 M./h (Len = 19)</text><text class="t" x="11.9" y="142.6">FoF #42; Coretag = 1035828412511425383</text><text class="t" x="11.9" y="162.6">M = 5.25e+10 M./h (19.45)</text></g>
<g id="node41" transform="translate(202.7,5858.9)"><rect class="cb" x="-187.2" y="0" width="398.3" height="172.6" fill="#f3f9ae"/><ellipse class="el" cx="0" cy="60.6" rx="176.7" ry="49.8" fill="#dbdbec"/><text class="t" y="46.3">Node 41, Snap 95</text><text class="t" y="66.3">id=1035828412511425383</text><text class="t" y="86.3">M=5.40e+10 M./h (Len = 20)</text><text class="t" x="11.9" y="142.6">FoF #41; Coretag = 1035828412511425383</text><text class="t" x="11.9" y="162.6">M = 5.38e+10 M./h (19.92)</text></g>
<g id="node40" transform="translate(202.7,6041.5)"><rect class="cb" x="-187.2" y="0" width="398.3" height="172.6" fill="#f3f9ae"/><ellipse class="el" cx="0" cy="60.6" rx="176.7" ry="49.8" fill="#dbdbec"/><text class="t" y="46.3">Node 40, Snap 96</text><text class="t" y="66.3">id=1035828412511425383</text><text class="t" y="86.3">M=5.40e+10 M./h (Len = 20)</text><text class="t" x="11.9" y="142.6">FoF #40; Coretag = 1035828412511425383</text><text class="t" x="11.9" y="162.6">M = 5.38e+10 M./h (19.92)</text></g>
<g id="node39" transform="translate(202.7,6224.1)"><rect class="cb" x="-187.2" y="0" width="398.3" height="172.6" fill="#f3f9ae"/><ellipse class="el" cx="0" cy="60.6" rx="176.7" ry="49.8" fill="#dcdcec"/><text class="t" y="46.3">Node 39, Snap 97</text><text class="t" y="66.3">id=1035828412511425383</text><text class="t" y="86.3">M=5.13e+10 M./h (Len = 19)</text><text class="t" x="11.9" y="142.6">FoF #39; Coretag = 1035828412511425383</text><text class="t" x="11.9" y="162.6">M = 5.25e+10 M./h (19.45)</text></g>
<g id="node38" transform="translate(202.7,6406.7)"><rect class="cb" x="-187.2" y="0" width="398.3" height="172.6" fill="#f3f9af"/><ellipse class="el" cx="0" cy="60.6" rx="176.7" ry="49.8" fill="#dcdcec"/><text class="t" y="46.3">Node 38, Snap 98</text><text class="t" y="66.3">id=1035828412511425383</text><text class="t" y="86.3">M=5.13e+10 M./h (Len = 19)</text><text class="t" x="11.9" y="142.6">FoF #38; Coretag = 1035828412511425383</text><text class="t" x="11.9" y="162.6">M = 5.00e+10 M./h (18.53)</text></g>
<g id="node1" transform="translate(415.6,6589.3)"><rect class="cb" x="-187.2" y="0" width="398.3" height="172.6" fill="#f5f7a7"/><ellipse class="el" cx="0" cy="60.6" rx="176.7" ry="49.8" fill="#d5d5e7"/><text class="t" y="46.3">Node 1, Snap 98</text><text class="t" y="66.3">id=914231222572422098</text><text class="t" y="86.3">M=8.10e+10 M./h (Len = 30)</text><text class="t" x="11.9" y="142.6">FoF #1; Coretag = 914231222572422098</text><text class="t" x="11.9" y="162.6">M = 8.13e+10 M./h (30.11)</text></g>
<g id="node0" transform="translate(309.2,6771.9)"><rect class="cb" x="-187.2" y="0" width="398.3" height="172.6" fill="#f8f59a"/><ellipse class="el" cx="0" cy="60.6" rx="176.7" ry="49.8" fill="#c8c8e0"/><text class="t" y="46.3">Node 0, Snap 99</text><text class="t" y="66.3">id=914231222572422098</text><text class="t" y="86.3">M=1.30e+11 M./h (Len = 48)</text><text class="t" x="11.9" y="142.6">FoF #0; Coretag = 914231222572422098</text><text class="t" x="11.9" y="162.6">M = 1.29e+11 M./h (47.71)</text></g>
</g>
<g id="connectors">
<path class="pk" transform="translate(610.7,76.3)" d="M-8.3,49.7V132.9"/><path class="or" transform="translate(610.7,76.3)" d="M8,132.9V49.7"/>
<path class="pk" transform="translate(610.7,258.9)" d="M-8.3,49.7V132.9"/><path class="or" transform="translate(610.7,258.9)" d="M8,132.9V49.7"/>
<path class="pk" transform="translate(610.7,441.5)" d="M-8.3,49.7V132.9"/><path class="or" transform="translate(610.7,441.5)" d="M8,132.9V49.7"/>
<path class="pk" transform="translate(610.7,624.1)" d="M-8.3,49.7V132.9"/><path class="or" transform="translate(610.7,624.1)" d="M8,132.9V49.7"/>
<path class="pk" transform="translate(610.7,806.7)" d="M-8.3,49.7V132.9"/><path class="or" transform="translate(610.7,806.7)" d="M8,132.9V49.7"/>
<path class="pk" transform="translate(610.7,989.3)" d="M-8.3,49.7V132.9"/><path class="or" transform="translate(610.7,989.3)" d="M8,132.9V49.7"/>
<path class="pk" transform="translate(610.7,1171.9)" d="M-8.3,49.7V132.9"/><path class="or" transform="translate(610.7,1171.9)" d="M8,132.9V49.7"/>
<path class="pk" transform="translate(610.7,1354.5)" d="M-8.3,49.7V132.9"/><path class="or" transform="translate(610.7,1354.5)" d="M8,132.9V49.7"/>
<path class="pk" transform="translate(610.7,1537.1)" d="M-8.3,49.7V132.9"/><path class="or" transform="translate(610.7,1537.1)" d="M8,132.9V49.7"/>
<path class="pk" transform="translate(610.7,1719.7)" d="M-8.3,49.7V132.9"/><path class="or" transform="translate(610.7,1719.7)" d="M8,132.9V49.7"/>
<path class="pk" transform="translate(610.7,1902.3)" d="M-8.3,49.7V132.9"/><path class="or" transform="translate(610.7,1902.3)" d="M8,132.9V49.7"/>
<path class="pk" transform="translate(610.7,2084.9)" d="M-8.3,49.7V132.9"/><path class="or" transform="translate(610.7,2084.9)" d="M8,132.9V49.7"/>
<path class="pk" transform="translate(610.7,2267.5)" d="M-8.3,49.7V132.9"/><path class="or" transform="translate(610.7,2267.5)" d="M8,132.9V49.7"/>
<path class="pk" transform="translate(610.7,2450.1)" d="M-8.3,49.7V132.9"/><path class="or" transform="translate(610.7,2450.1)" d="M8,132.9V49.7"/>
<path class="pk" transform="translate(610.7,2632.7)" d="M-8.3,49.7V132.9"/><path class="or" transform="translate(610.7,2632.7)" d="M8,132.9V49.7"/>
<path class="pk" transform="translate(610.7,2815.3)" d="M-8.3,49.7V132.9"/><path class="or" transform="translate(610.7,2815.3)" d="M8,132.9V49.7"/>
<path class="pk" transform="translate(610.7,2997.9)" d="M-8.3,49.7V132.9"/><path class="or" transform="translate(610.7,2997.9)" d="M8,132.9V49.7"/>
<path class="pk" transform="translate(610.7,3180.5)" d="M-8.3,49.7V132.9"/><path class="or" transform="translate(610.7,3180.5)" d="M8,132.9V49.7"/>
<path class="pk" transform="translate(610.7,3363.1)" d="M-8.3,49.7V132.9"/><path class="or" transform="translate(610.7,3363.1)" d="M8,132.9V49.7"/>
<path class="pk" transform="translate(610.7,3545.7)" d="M-8.3,49.7V132.9"/><path class="or" transform="translate(610.7,3545.7)" d="M8,132.9V49.7"/>
<path class="pk" transform="translate(610.7,3728.3)" d="M-8.3,49.7V132.9"/><path class="or" transform="translate(610.7,3728.3)" d="M8,132.9V49.7"/>
<path class="pk" transform="translate(610.7,3910.9)" d="M-8.3,49.7V132.9"/><path class="or" transform="translate(610.7,3910.9)" d="M8,132.9V49.7"/>
<path class="pk" transform="translate(610.7,4093.5)" d="M-8.3,49.7V132.9"/><path class="or" transform="translate(610.7,4093.5)" d="M8,132.9V49.7"/>
<path class="pk" transform="translate(610.7,4276.1)" d="M-8.3,49.7V132.9"/><path class="or" transform="translate(610.7,4276.1)" d="M8,132.9V49.7"/>
<path class="pk" transform="translate(610.7,4458.7)" d="M-8.3,49.7V132.9"/><path class="or" transform="translate(610.7,4458.7)" d="M8,132.9V49.7"/>
<path class="pk" transform="translate(610.7,4641.3)" d="M-8.3,49.7V132.9"/><path class="or" transform="translate(610.7,4641.3)" d="M8,132.9V49.7"/>
<path class="pk" transform="translate(610.7,4823.9)" d="M-8.3,49.7V132.9"/><path class="or" transform="translate(610.7,4823.9)" d="M8,132.9V49.7"/>
<path class="pk" transform="translate(610.7,5006.5)" d="M-8.3,49.7V132.9"/><path class="or" transform="translate(610.7,5006.5)" d="M8,132.9V49.7"/>
<path class="pk" transform="translate(610.7,5189.1)" d="M-8.3,49.7V132.9"/><path class="or" transform="translate(610.7,5189.1)" d="M8,132.9V49.7"/>
<path class="pk" transform="translate(610.7,5371.7)" d="M-8.3,49.7V132.9"/><path class="or" transform="translate(610.7,5371.7)" d="M8,132.9V49.7"/>
<path class="pk" transform="translate(610.7,5554.3)" d="M-8.3,49.7V132.9"/><path class="or" transform="translate(610.7,5554.3)" d="M8,132.9V49.7"/>
<path class="pk" transform="translate(610.7,5736.9)" d="M-8.3,49.7V132.9"/><path class="or" transform="translate(610.7,5736.9)" d="M8,132.9V49.7"/>
<path class="pk" transform="translate(610.7,5919.5)" d="M-8.3,49.7V132.9"/><path class="or" transform="translate(610.7,5919.5)" d="M8,132.9V49.7"/>
<path class="pk" transform="translate(610.7,6102.1)" d="M-8.3,49.7V132.9"/><path class="or" transform="translate(610.7,6102.1)" d="M8,132.9V49.7"/>
<path class="pk" transform="translate(610.7,6284.7)" d="M-8.3,49.7V132.9"/><path class="or" transform="translate(610.7,6284.7)" d="M8,132.9V49.7"/>
<path class="pk" transform="translate(202.7,806.7)" d="M-8.3,49.7V132.9"/><path class="or" transform="translate(202.7,806.7)" d="M8,132.9V49.7"/>
<path class="pk" transform="translate(202.7,989.3)" d="M-8.3,49.7V132.9"/><path class="or" transform="translate(202.7,989.3)" d="M8,132.9V49.7"/>
<path class="pk" transform="translate(202.7,1171.9)" d="M-8.3,49.7V132.9"/><path class="or" transform="translate(202.7,1171.9)" d="M8,132.9V49.7"/>
<path class="pk" transform="translate(202.7,1354.5)" d="M-8.3,49.7V132.9"/><path class="or" transform="translate(202.7,1354.5)" d="M8,132.9V49.7"/>
<path class="pk" transform="translate(202.7,1537.1)" d="M-8.3,49.7V132.9"/><path class="or" transform="translate(202.7,1537.1)" d="M8,132.9V49.7"/>
<path class="pk" transform="translate(202.7,1719.7)" d="M-8.3,49.7V132.9"/><path class="or" transform="translate(202.7,1719.7)" d="M8,132.9V49.7"/>
<path class="pk" transform="translate(202.7,1902.3)" d="M-8.3,49.7V132.9"/><path class="or" transform="translate(202.7,1902.3)" d="M8,132.9V49.7"/>
<path class="pk" transform="translate(202.7,2084.9)" d="M-8.3,49.7V132.9"/><path class="or" transform="translate(202.7,2084.9)" d="M8,132.9V49.7"/>
<path class="pk" transform="translate(202.7,2267.5)" d="M-8.3,49.7V132.9"/><path class="or" transform="translate(202.7,2267.5)" d="M8,132.9V49.7"/>
<path class="pk" transform="translate(202.7,2450.1)" d="M-8.3,49.7V132.9"/><path class="or" transform="translate(202.7,2450.1)" d="M8,132.9V49.7"/>
<path class="pk" transform="translate(202.7,2632.7)" d="M-8.3,49.7V132.9"/><path class="or" transform="translate(202.7,2632.7)" d="M8,132.9V49.7"/>
<path class="pk" transform="translate(202.7,2815.3)" d="M-8.3,49.7V132.9"/><path class="or" transform="translate(202.7,2815.3)" d="M8,132.9V49.7"/>
<path class="pk" transform="translate(202.7,2997.9)" d="M-8.3,49.7V132.9"/><path class="or" transform="translate(202.7,2997.9)" d="M8,132.9V49.7"/>
<path class="pk" transform="translate(202.7,3180.5)" d="M-8.3,49.7V132.9"/><path class="or" transform="translate(202.7,3180.5)" d="M8,132.9V49.7"/>
<path class="pk" transform="translate(202.7,3363.1)" d="M-8.3,49.7V132.9"/><path class="or" transform="translate(202.7,3363.1)" d="M8,132.9V49.7"/>
<path class="pk" transform="translate(202.7,3545.7)" d="M-8.3,49.7V132.9"/><path class="or" transform="translate(202.7,3545.7)" d="M8,132.9V49.7"/>
<path class="pk" transform="translate(202.7,3728.3)" d="M-8.3,49.7V132.9"/><path class="or" transform="translate(202.7,3728.3)" d="M8,132.9V49.7"/>
<path class="pk" transform="translate(202.7,3910.9)" d="M-8.3,49.7V132.9"/><path class="or" transform="translate(202.7,3910.9)" d="M8,132.9V49.7"/>
<path class="pk" transform="translate(202.7,4093.5)" d="M-8.3,49.7V132.9"/><path class="or" transform="translate(202.7,4093.5)" d="M8,132.9V49.7"/>
<path class="pk" transform="translate(202.7,4276.1)" d="M-8.3,49.7V132.9"/><path class="or" transform="translate(202.7,4276.1)" d="M8,132.9V49.7"/>
<path class="pk" transform="translate(202.7,4458.7)" d="M-8.3,49.7V132.9"/><path class="or" transform="translate(202.7,4458.7)" d="M8,132.9V49.7"/>
<path class="pk" transform="translate(202.7,4641.3)" d="M-8.3,49.7V132.9"/><path class="or" transform="translate(202.7,4641.3)" d="M8,132.9V49.7"/>
<path class="pk" transform="translate(202.7,4823.9)" d="M-8.3,49.7V132.9"/><path class="or" transform="translate(202.7,4823.9)" d="M8,132.9V49.7"/>
<path class="pk" transform="translate(202.7,5006.5)" d="M-8.3,49.7V132.9"/><path class="or" transform="translate(202.7,5006.5)" d="M8,132.9V49.7"/>
<path class="pk" transform="translate(202.7,5189.1)" d="M-8.3,49.7V132.9"/><path class="or" transform="translate(202.7,5189.1)" d="M8,132.9V49.7"/>
<path class="pk" transform="translate(202.7,5371.7)" d="M-8.3,49.7V132.9"/><path class="or" transform="translate(202.7,5371.7)" d="M8,132.9V49.7"/>
<path class="pk" transform="translate(202.7,5554.3)" d="M-8.3,49.7V132.9"/><path class="or" transform="translate(202.7,5554.3)" d="M8,132.9V49.7"/>
<path class="pk" transform="translate(202.7,5736.9)" d="M-8.3,49.7V132.9"/><path class="or" transform="translate(202.7,5736.9)" d="M8,132.9V49.7"/>
<path class="pk" transform="translate(202.7,5919.5)" d="M-8.3,49.7V132.9"/><path class="or" transform="translate(202.7,5919.5)" d="M8,132.9V49.7"/>
<path class="pk" transform="translate(202.7,6102.1)" d="M-8.3,49.7V132.9"/><path class="or" transform="translate(202.7,6102.1)" d="M8,132.9V49.7"/>
<path class="pk" transform="translate(202.7,6284.7)" d="M-8.3,49.7V132.9"/><path class="or" transform="translate(202.7,6284.7)" d="M8,132.9V49.7"/>
<path class="cy" d="M360,6602.7L257.9,6514.8"/>
<path class="pk" d="M551.5,6514.1L459.2,6602.7"/>
<path class="or" d="M474.7,6603.1L566,6515.4"/>
<path class="pk" d="M379,6698.8L330.7,6782.6"/>
<path class="or" d="M346.2,6783.3L394.4,6699.5"/>
<path class="pk" d="M194.3,6517C188,6640 200,6730 242,6786.5"/>
<g id="selfloops">
<path class="lp" transform="translate(610.7,76.3)" d="M129.3,33.9C170,27 200.3,16 200.3,0C200.3,-16 172,-27 129.3,-33.9"/>
<path class="lp" transform="translate(610.7,258.9)" d="M129.3,33.9C170,27 200.3,16 200.3,0C200.3,-16 172,-27 129.3,-33.9"/>
<path class="lp" transform="translate(610.7,441.5)" d="M129.3,33.9C170,27 200.3,16 200.3,0C200.3,-16 172,-27 129.3,-33.9"/>
<path class="lp" transform="translate(610.7,624.1)" d="M129.3,33.9C170,27 200.3,16 200.3,0C200.3,-16 172,-27 129.3,-33.9"/>
<path class="lp" transform="translate(610.7,806.7)" d="M129.3,33.9C170,27 200.3,16 200.3,0C200.3,-16 172,-27 129.3,-33.9"/>
<path class="lp" transform="translate(610.7,989.3)" d="M129.3,33.9C170,27 200.3,16 200.3,0C200.3,-16 172,-27 129.3,-33.9"/>
<path class="lp" transform="translate(610.7,1171.9)" d="M129.3,33.9C170,27 200.3,16 200.3,0C200.3,-16 172,-27 129.3,-33.9"/>
<path class="lp" transform="translate(610.7,1354.5)" d="M129.3,33.9C170,27 200.3,16 200.3,0C200.3,-16 172,-27 129.3,-33.9"/>
<path class="lp" transform="translate(610.7,1537.1)" d="M129.3,33.9C170,27 200.3,16 200.3,0C200.3,-16 172,-27 129.3,-33.9"/>
<path class="lp" transform="translate(610.7,1719.7)" d="M129.3,33.9C170,27 200.3,16 200.3,0C200.3,-16 172,-27 129.3,-33.9"/>
<path class="lp" transform="translate(610.7,1902.3)" d="M129.3,33.9C170,27 200.3,16 200.3,0C200.3,-16 172,-27 129.3,-33.9"/>
<path class="lp" transform="translate(610.7,2084.9)" d="M129.3,33.9C170,27 200.3,16 200.3,0C200.3,-16 172,-27 129.3,-33.9"/>
<path class="lp" transform="translate(610.7,2267.5)" d="M129.3,33.9C170,27 200.3,16 200.3,0C200.3,-16 172,-27 129.3,-33.9"/>
<path class="lp" transform="translate(610.7,2450.1)" d="M129.3,33.9C170,27 200.3,16 200.3,0C200.3,-16 172,-27 129.3,-33.9"/>
<path class="lp" transform="translate(610.7,2632.7)" d="M129.3,33.9C170,27 200.3,16 200.3,0C200.3,-16 172,-27 129.3,-33.9"/>
<path class="lp" transform="translate(610.7,2815.3)" d="M129.3,33.9C170,27 200.3,16 200.3,0C200.3,-16 172,-27 129.3,-33.9"/>
<path class="lp" transform="translate(610.7,2997.9)" d="M129.3,33.9C170,27 200.3,16 200.3,0C200.3,-16 172,-27 129.3,-33.9"/>
<path class="lp" transform="translate(610.7,3180.5)" d="M129.3,33.9C170,27 200.3,16 200.3,0C200.3,-16 172,-27 129.3,-33.9"/>
<path class="lp" transform="translate(610.7,3363.1)" d="M129.3,33.9C170,27 200.3,16 200.3,0C200.3,-16 172,-27 129.3,-33.9"/>
<path class="lp" transform="translate(610.7,3545.7)" d="M129.3,33.9C170,27 200.3,16 200.3,0C200.3,-16 172,-27 129.3,-33.9"/>
<path class="lp" transform="translate(610.7,3728.3)" d="M129.3,33.9C170,27 200.3,16 200.3,0C200.3,-16 172,-27 129.3,-33.9"/>
<path class="lp" transform="translate(610.7,3910.9)" d="M129.3,33.9C170,27 200.3,16 200.3,0C200.3,-16 172,-27 129.3,-33.9"/>
<path class="lp" transform="translate(610.7,4093.5)" d="M129.3,33.9C170,27 200.3,16 200.3,0C200.3,-16 172,-27 129.3,-33.9"/>
<path class="lp" transform="translate(610.7,4276.1)" d="M129.3,33.9C170,27 200.3,16 200.3,0C200.3,-16 172,-27 129.3,-33.9"/>
<path class="lp" transform="translate(610.7,4458.7)" d="M129.3,33.9C170,27 200.3,16 200.3,0C200.3,-16 172,-27 129.3,-33.9"/>
<path class="lp" transform="translate(610.7,4641.3)" d="M129.3,33.9C170,27 200.3,16 200.3,0C200.3,-16 172,-27 129.3,-33.9"/>
<path class="lp" transform="translate(610.7,4823.9)" d="M129.3,33.9C170,27 200.3,16 200.3,0C200.3,-16 172,-27 129.3,-33.9"/>
<path class="lp" transform="translate(610.7,5006.5)" d="M129.3,33.9C170,27 200.3,16 200.3,0C200.3,-16 172,-27 129.3,-33.9"/>
<path class="lp" transform="translate(610.7,5189.1)" d="M129.3,33.9C170,27 200.3,16 200.3,0C200.3,-16 172,-27 129.3,-33.9"/>
<path class="lp" transform="translate(610.7,5371.7)" d="M129.3,33.9C170,27 200.3,16 200.3,0C200.3,-16 172,-27 129.3,-33.9"/>
<path class="lp" transform="translate(610.7,5554.3)" d="M129.3,33.9C170,27 200.3,16 200.3,0C200.3,-16 172,-27 129.3,-33.9"/>
<path class="lp" transform="translate(610.7,5736.9)" d="M129.3,33.9C170,27 200.3,16 200.3,0C200.3,-16 172,-27 129.3,-33.9"/>
<path class="lp" transform="translate(610.7,5919.5)" d="M129.3,33.9C170,27 200.3,16 200.3,0C200.3,-16 172,-27 129.3,-33.9"/>
<path class="lp" transform="translate(610.7,6102.1)" d="M129.3,33.9C170,27 200.3,16 200.3,0C200.3,-16 172,-27 129.3,-33.9"/>
<path class="lp" transform="translate(610.7,6284.7)" d="M129.3,33.9C170,27 200.3,16 200.3,0C200.3,-16 172,-27 129.3,-33.9"/>
<path class="lp" transform="translate(610.7,6467.3)" d="M129.3,33.9C170,27 200.3,16 200.3,0C200.3,-16 172,-27 129.3,-33.9"/>
<path class="lp" transform="translate(202.7,806.7)" d="M129.3,33.9C170,27 200.3,16 200.3,0C200.3,-16 172,-27 129.3,-33.9"/>
<path class="lp" transform="translate(202.7,989.3)" d="M129.3,33.9C170,27 200.3,16 200.3,0C200.3,-16 172,-27 129.3,-33.9"/>
<path class="lp" transform="translate(202.7,1171.9)" d="M129.3,33.9C170,27 200.3,16 200.3,0C200.3,-16 172,-27 129.3,-33.9"/>
<path class="lp" transform="translate(202.7,1354.5)" d="M129.3,33.9C170,27 200.3,16 200.3,0C200.3,-16 172,-27 129.3,-33.9"/>
<path class="lp" transform="translate(202.7,1537.1)" d="M129.3,33.9C170,27 200.3,16 200.3,0C200.3,-16 172,-27 129.3,-33.9"/>
<path class="lp" transform="translate(202.7,1719.7)" d="M129.3,33.9C170,27 200.3,16 200.3,0C200.3,-16 172,-27 129.3,-33.9"/>
<path class="lp" transform="translate(202.7,1902.3)" d="M129.3,33.9C170,27 200.3,16 200.3,0C200.3,-16 172,-27 129.3,-33.9"/>
<path class="lp" transform="translate(202.7,2084.9)" d="M129.3,33.9C170,27 200.3,16 200.3,0C200.3,-16 172,-27 129.3,-33.9"/>
<path class="lp" transform="translate(202.7,2267.5)" d="M129.3,33.9C170,27 200.3,16 200.3,0C200.3,-16 172,-27 129.3,-33.9"/>
<path class="lp" transform="translate(202.7,2450.1)" d="M129.3,33.9C170,27 200.3,16 200.3,0C200.3,-16 172,-27 129.3,-33.9"/>
<path class="lp" transform="translate(202.7,2632.7)" d="M129.3,33.9C170,27 200.3,16 200.3,0C200.3,-16 172,-27 129.3,-33.9"/>
<path class="lp" transform="translate(202.7,2815.3)" d="M129.3,33.9C170,27 200.3,16 200.3,0C200.3,-16 172,-27 129.3,-33.9"/>
<path class="lp" transform="translate(202.7,2997.9)" d="M129.3,33.9C170,27 200.3,16 200.3,0C200.3,-16 172,-27 129.3,-33.9"/>
<path class="lp" transform="translate(202.7,3180.5)" d="M129.3,33.9C170,27 200.3,16 200.3,0C200.3,-16 172,-27 129.3,-33.9"/>
<path class="lp" transform="translate(202.7,3363.1)" d="M129.3,33.9C170,27 200.3,16 200.3,0C200.3,-16 172,-27 129.3,-33.9"/>
<path class="lp" transform="translate(202.7,3545.7)" d="M129.3,33.9C170,27 200.3,16 200.3,0C200.3,-16 172,-27 129.3,-33.9"/>
<path class="lp" transform="translate(202.7,3728.3)" d="M129.3,33.9C170,27 200.3,16 200.3,0C200.3,-16 172,-27 129.3,-33.9"/>
<path class="lp" transform="translate(202.7,3910.9)" d="M129.3,33.9C170,27 200.3,16 200.3,0C200.3,-16 172,-27 129.3,-33.9"/>
<path class="lp" transform="translate(202.7,4093.5)" d="M129.3,33.9C170,27 200.3,16 200.3,0C200.3,-16 172,-27 129.3,-33.9"/>
<path class="lp" transform="translate(202.7,4276.1)" d="M129.3,33.9C170,27 200.3,16 200.3,0C200.3,-16 172,-27 129.3,-33.9"/>
<path class="lp" transform="translate(202.7,4458.7)" d="M129.3,33.9C170,27 200.3,16 200.3,0C200.3,-16 172,-27 129.3,-33.9"/>
<path class="lp" transform="translate(202.7,4641.3)" d="M129.3,33.9C170,27 200.3,16 200.3,0C200.3,-16 172,-27 129.3,-33.9"/>
<path class="lp" transform="translate(202.7,4823.9)" d="M129.3,33.9C170,27 200.3,16 200.3,0C200.3,-16 172,-27 129.3,-33.9"/>
<path class="lp" transform="translate(202.7,5006.5)" d="M129.3,33.9C170,27 200.3,16 200.3,0C200.3,-16 172,-27 129.3,-33.9"/>
<path class="lp" transform="translate(202.7,5189.1)" d="M129.3,33.9C170,27 200.3,16 200.3,0C200.3,-16 172,-27 129.3,-33.9"/>
<path class="lp" transform="translate(202.7,5371.7)" d="M129.3,33.9C170,27 200.3,16 200.3,0C200.3,-16 172,-27 129.3,-33.9"/>
<path class="lp" transform="translate(202.7,5554.3)" d="M129.3,33.9C170,27 200.3,16 200.3,0C200.3,-16 172,-27 129.3,-33.9"/>
<path class="lp" transform="translate(202.7,5736.9)" d="M129.3,33.9C170,27 200.3,16 200.3,0C200.3,-16 172,-27 129.3,-33.9"/>
<path class="lp" transform="translate(202.7,5919.5)" d="M129.3,33.9C170,27 200.3,16 200.3,0C200.3,-16 172,-27 129.3,-33.9"/>
<path class="lp" transform="translate(202.7,6102.1)" d="M129.3,33.9C170,27 200.3,16 200.3,0C200.3,-16 172,-27 129.3,-33.9"/>
<path class="lp" transform="translate(202.7,6284.7)" d="M129.3,33.9C170,27 200.3,16 200.3,0C200.3,-16 172,-27 129.3,-33.9"/>
<path class="lp" transform="translate(202.7,6467.3)" d="M129.3,33.9C170,27 200.3,16 200.3,0C200.3,-16 172,-27 129.3,-33.9"/>
<path class="lp" transform="translate(415.6,6649.9)" d="M129.3,33.9C170,27 200.3,16 200.3,0C200.3,-16 172,-27 129.3,-33.9"/>
<path class="lp" transform="translate(309.2,6832.5)" d="M129.3,33.9C170,27 200.3,16 200.3,0C200.3,-16 172,-27 129.3,-33.9"/>
</g>
</g>
</g>
</svg>
